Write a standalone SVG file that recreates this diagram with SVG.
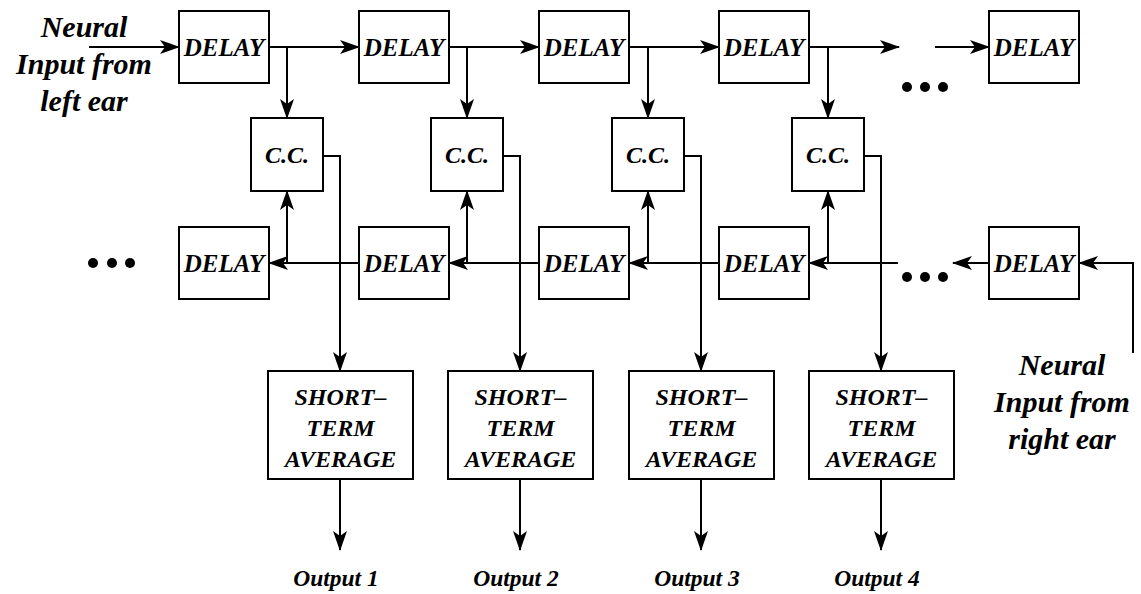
<svg xmlns="http://www.w3.org/2000/svg" width="1141" height="594" viewBox="0 0 1141 594">
  <style>
    .box { fill: #fff; stroke: #000; stroke-width: 2; }
    .wire { fill: none; stroke: #000; stroke-width: 2; }
    .arr { marker-end: url(#head); }
    .lbl { font-family: "Liberation Serif", "Times New Roman", serif; font-weight: bold; font-style: italic; fill: #000; text-anchor: middle; }
    .box-t { font-size: 24px; }
    .dl { font-size: 25px; }
    .big { font-size: 30px; }
    .out { font-size: 23.5px; }
    .dot { fill: #000; }
  </style>
  <defs>
    <marker id="head" viewBox="0 0 20 14" refX="19" refY="7" markerWidth="20" markerHeight="14" markerUnits="userSpaceOnUse" orient="auto">
      <path d="M0,0 L20,7 L0,14 L5,7 Z" fill="#000"/>
    </marker>
  </defs>

  <!-- connectors -->
  <g id="connectors">
    <!-- left-ear delay line -->
    <line class="wire arr" x1="89" y1="47" x2="179" y2="47"/>
    <line class="wire arr" x1="269" y1="47" x2="359" y2="47"/>
    <line class="wire arr" x1="449" y1="47" x2="539" y2="47"/>
    <line class="wire arr" x1="629" y1="47" x2="719" y2="47"/>
    <line class="wire arr" x1="809" y1="47" x2="899" y2="47"/>
    <line class="wire arr" x1="935" y1="47" x2="989" y2="47"/>
    <!-- taps down into the cross-correlators -->
    <line class="wire arr" x1="287" y1="47" x2="287" y2="118"/>
    <line class="wire arr" x1="467" y1="47" x2="467" y2="118"/>
    <line class="wire arr" x1="648" y1="47" x2="648" y2="118"/>
    <line class="wire arr" x1="828" y1="47" x2="828" y2="118"/>

    <!-- right-ear delay line -->
    <polyline class="wire arr" points="1133,353 1133,263 1079,263"/>
    <line class="wire arr" x1="989" y1="263" x2="953" y2="263"/>
    <line class="wire arr" x1="898" y1="263" x2="809" y2="263"/>
    <line class="wire arr" x1="719" y1="263" x2="629" y2="263"/>
    <line class="wire arr" x1="539" y1="263" x2="449" y2="263"/>
    <line class="wire arr" x1="359" y1="263" x2="269" y2="263"/>
    <!-- taps up into the cross-correlators -->
    <line class="wire arr" x1="287" y1="263" x2="287" y2="191"/>
    <line class="wire arr" x1="467" y1="263" x2="467" y2="191"/>
    <line class="wire arr" x1="648" y1="263" x2="648" y2="191"/>
    <line class="wire arr" x1="828" y1="263" x2="828" y2="191"/>

    <!-- correlator outputs to averagers -->
    <polyline class="wire arr" points="323,156 340,156 340,371"/>
    <polyline class="wire arr" points="503,156 520,156 520,371"/>
    <polyline class="wire arr" points="684,156 701,156 701,371"/>
    <polyline class="wire arr" points="864,156 881,156 881,371"/>

    <!-- averager outputs -->
    <line class="wire arr" x1="340" y1="479" x2="340" y2="550"/>
    <line class="wire arr" x1="520" y1="479" x2="520" y2="550"/>
    <line class="wire arr" x1="701" y1="479" x2="701" y2="550"/>
    <line class="wire arr" x1="881" y1="479" x2="881" y2="550"/>
  </g>

  <!-- continuation dots -->
  <g id="ellipses">
    <circle class="dot" cx="907" cy="87" r="5"/>
    <circle class="dot" cx="925" cy="87" r="5"/>
    <circle class="dot" cx="943" cy="87" r="5"/>
    <circle class="dot" cx="907" cy="277" r="5"/>
    <circle class="dot" cx="925" cy="277" r="5"/>
    <circle class="dot" cx="943" cy="277" r="5"/>
    <circle class="dot" cx="93" cy="263" r="5"/>
    <circle class="dot" cx="112" cy="263" r="5"/>
    <circle class="dot" cx="130" cy="263" r="5"/>
  </g>

  <!-- top delay row -->
  <g id="delayL1"><rect class="box" x="179" y="11" width="90" height="72"/><text class="lbl dl" x="224" y="56">DELAY</text></g>
  <g id="delayL2"><rect class="box" x="359" y="11" width="90" height="72"/><text class="lbl dl" x="404" y="56">DELAY</text></g>
  <g id="delayL3"><rect class="box" x="539" y="11" width="90" height="72"/><text class="lbl dl" x="584" y="56">DELAY</text></g>
  <g id="delayL4"><rect class="box" x="719" y="11" width="90" height="72"/><text class="lbl dl" x="764" y="56">DELAY</text></g>
  <g id="delayLN"><rect class="box" x="989" y="11" width="90" height="72"/><text class="lbl dl" x="1034" y="56">DELAY</text></g>

  <!-- cross-correlators -->
  <g id="cc1"><rect class="box" x="251" y="118" width="72" height="73"/><text class="lbl box-t" x="287" y="163">C.C.</text></g>
  <g id="cc2"><rect class="box" x="431" y="118" width="72" height="73"/><text class="lbl box-t" x="467" y="163">C.C.</text></g>
  <g id="cc3"><rect class="box" x="612" y="118" width="72" height="73"/><text class="lbl box-t" x="648" y="163">C.C.</text></g>
  <g id="cc4"><rect class="box" x="792" y="118" width="72" height="73"/><text class="lbl box-t" x="828" y="163">C.C.</text></g>

  <!-- bottom delay row -->
  <g id="delayR1"><rect class="box" x="179" y="227" width="90" height="72"/><text class="lbl dl" x="224" y="272">DELAY</text></g>
  <g id="delayR2"><rect class="box" x="359" y="227" width="90" height="72"/><text class="lbl dl" x="404" y="272">DELAY</text></g>
  <g id="delayR3"><rect class="box" x="539" y="227" width="90" height="72"/><text class="lbl dl" x="584" y="272">DELAY</text></g>
  <g id="delayR4"><rect class="box" x="719" y="227" width="90" height="72"/><text class="lbl dl" x="764" y="272">DELAY</text></g>
  <g id="delayRN"><rect class="box" x="989" y="227" width="90" height="72"/><text class="lbl dl" x="1034" y="272">DELAY</text></g>

  <!-- short-term averagers -->
  <g id="avg1"><rect class="box" x="268" y="371" width="145" height="108"/>
    <text class="lbl box-t" x="340.5"><tspan x="340.5" y="405">SHORT–</tspan><tspan x="340.5" y="436">TERM</tspan><tspan x="340.5" y="467">AVERAGE</tspan></text></g>
  <g id="avg2"><rect class="box" x="448" y="371" width="145" height="108"/>
    <text class="lbl box-t" x="520.5"><tspan x="520.5" y="405">SHORT–</tspan><tspan x="520.5" y="436">TERM</tspan><tspan x="520.5" y="467">AVERAGE</tspan></text></g>
  <g id="avg3"><rect class="box" x="629" y="371" width="145" height="108"/>
    <text class="lbl box-t" x="701.5"><tspan x="701.5" y="405">SHORT–</tspan><tspan x="701.5" y="436">TERM</tspan><tspan x="701.5" y="467">AVERAGE</tspan></text></g>
  <g id="avg4"><rect class="box" x="809" y="371" width="145" height="108"/>
    <text class="lbl box-t" x="881.5"><tspan x="881.5" y="405">SHORT–</tspan><tspan x="881.5" y="436">TERM</tspan><tspan x="881.5" y="467">AVERAGE</tspan></text></g>

  <!-- inputs -->
  <g id="inLeft">
    <text class="lbl big"><tspan x="84" y="37">Neural</tspan><tspan x="84" y="74">Input from</tspan><tspan x="84" y="111">left ear</tspan></text>
  </g>
  <g id="inRight">
    <text class="lbl big"><tspan x="1062" y="375">Neural</tspan><tspan x="1062" y="412">Input from</tspan><tspan x="1062" y="449">right ear</tspan></text>
  </g>

  <!-- outputs -->
  <g id="out1"><text class="lbl out" x="336" y="586">Output 1</text></g>
  <g id="out2"><text class="lbl out" x="516" y="586">Output 2</text></g>
  <g id="out3"><text class="lbl out" x="697" y="586">Output 3</text></g>
  <g id="out4"><text class="lbl out" x="877" y="586">Output 4</text></g>
</svg>
